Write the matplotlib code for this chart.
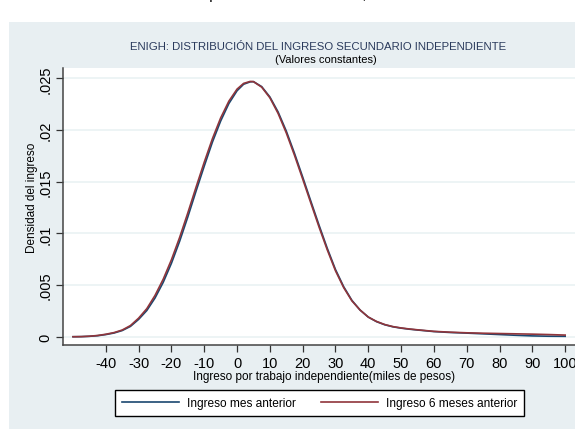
import numpy as np
import matplotlib
matplotlib.use("Agg")
import matplotlib.pyplot as plt
from matplotlib.patches import Rectangle

plt.rcParams['font.family'] = ['Liberation Sans', 'DejaVu Sans']

# Ingreso (miles de pesos)
x_vals = [-50, -47.5, -45, -42.5, -40, -37.5, -35, -32.5, -30, -27.5, -25, -22.5,
          -20, -17.5, -15, -12.5, -10, -7.5, -5, -2.5, 0, 2, 4, 5, 7.5, 10,
          12.5, 15, 17.5, 20, 22.5, 25, 27.5, 30, 32.5, 35, 37.5, 40, 42.5, 45,
          47.5, 50, 52.5, 55, 60, 65, 70, 75, 80, 85, 90, 95, 100]

# densidad - ingreso mes anterior
dens_mes = [0.0, 0.00001, 0.00004, 0.00010, 0.00021, 0.00036, 0.00060, 0.00100,
            0.00168, 0.00254, 0.00375, 0.00527, 0.00711, 0.00924, 0.01160, 0.01409,
            0.01651, 0.01884, 0.02087, 0.02256, 0.02380, 0.02443, 0.02466, 0.02468,
            0.02420, 0.02320, 0.02175, 0.01990, 0.01775, 0.01545, 0.01310, 0.01078,
            0.00855, 0.00650, 0.00484, 0.00352, 0.00258, 0.00190, 0.00146, 0.00116,
            0.00096, 0.00083, 0.00073, 0.00065, 0.00050, 0.00041, 0.00035, 0.00028,
            0.00021, 0.00014, 0.00008, 0.00005, 0.00004]

# densidad - ingreso 6 meses anterior
dens_6m = [0.0, 0.00001, 0.00005, 0.00012, 0.00024, 0.00040, 0.00065, 0.00108,
           0.00180, 0.00272, 0.00400, 0.00557, 0.00745, 0.00961, 0.01199, 0.01447,
           0.01689, 0.01917, 0.02117, 0.02279, 0.02396, 0.02451, 0.02470, 0.02468,
           0.02415, 0.02312, 0.02161, 0.01972, 0.01756, 0.01526, 0.01292, 0.01060,
           0.00840, 0.00638, 0.00475, 0.00347, 0.00258, 0.00190, 0.00148, 0.00118,
           0.00098, 0.00085, 0.00075, 0.00067, 0.00052, 0.00044, 0.00038, 0.00034,
           0.00031, 0.00028, 0.00025, 0.00021, 0.00016]

x_ticks = [-40, -30, -20, -10, 0, 10, 20, 30, 40, 50, 60, 70, 80, 90, 100]
y_ticks = [0, 0.005, 0.01, 0.015, 0.02, 0.025]
y_labels = ['0', '.005', '.01', '.015', '.02', '.025']

W, H = 575, 431
fig = plt.figure(figsize=(W / 100, H / 100), dpi=100)

def fx(px):
    return px / W

def fy(py):
    return 1 - py / H

# fondo gris-azulado del grafico
bg = '#e8eff2'
fig.patches.append(Rectangle((fx(9), fy(430)), 1, fy(23) - fy(430),
                             transform=fig.transFigure, facecolor=bg,
                             edgecolor='none', zorder=-5))

ax = fig.add_axes([fx(63.3), fy(346), 1 - fx(63.3), fy(69) - fy(346)])
ax.set_zorder(2)
ax.set_facecolor('white')

ax.plot(x_vals, dens_mes, color='#1a476f', lw=1.2, label='Ingreso mes anterior')
ax.plot(x_vals, dens_6m, color='#90353b', lw=1.2, label='Ingreso 6 meses anterior')

ax.set_xlim(-52.96, 103.0)
ax.set_ylim(-0.0008, 0.026)
ax.set_xticks(x_ticks)
ax.set_xticklabels([str(v) for v in x_ticks])
ax.set_yticks(y_ticks)
ax.set_yticklabels(y_labels, rotation=90, va='center')
ax.tick_params(axis='both', length=5, width=0.9, color='#333333',
               labelsize=10.5, pad=3)
ax.grid(axis='y', color='#eaf2f3', lw=1.2)
ax.set_axisbelow(True)
for s in ['top', 'right']:
    ax.spines[s].set_visible(False)
for s in ['left', 'bottom']:
    ax.spines[s].set_color('#444444')
    ax.spines[s].set_linewidth(1.1)

fig.text(fx(318.3), fy(46.7), 'ENIGH: DISTRIBUCIÓN DEL INGRESO SECUNDARIO INDEPENDIENTE',
         ha='center', va='center', fontsize=8.2, color='#2a3a5c')
fig.text(fx(325.9), fy(60), '(Valores constantes)', ha='center', va='center',
         fontsize=8.0, color='black')
fig.text(fx(324), fy(377.3), 'Ingreso por trabajo independiente(miles de pesos)',
         ha='center', va='center', fontsize=8.5)
fig.text(fx(32), fy(197.5), 'Densidad del ingreso', ha='center', va='center',
         rotation=90, fontsize=8.5)
fig.text(fx(292), fy(-1), 'Independiente secundario, 2007', ha='center',
         va='baseline', fontsize=11.5)

leg = fig.legend(loc='center', bbox_to_anchor=(fx(319.4), fy(404)), ncol=2,
                 fontsize=8.6, handlelength=4.8, handletextpad=0.65,
                 columnspacing=2.1, borderpad=0.6, fancybox=False,
                 framealpha=1, edgecolor='black')
leg.get_frame().set_linewidth(1.0)

fig.savefig('out.png', dpi=100)
